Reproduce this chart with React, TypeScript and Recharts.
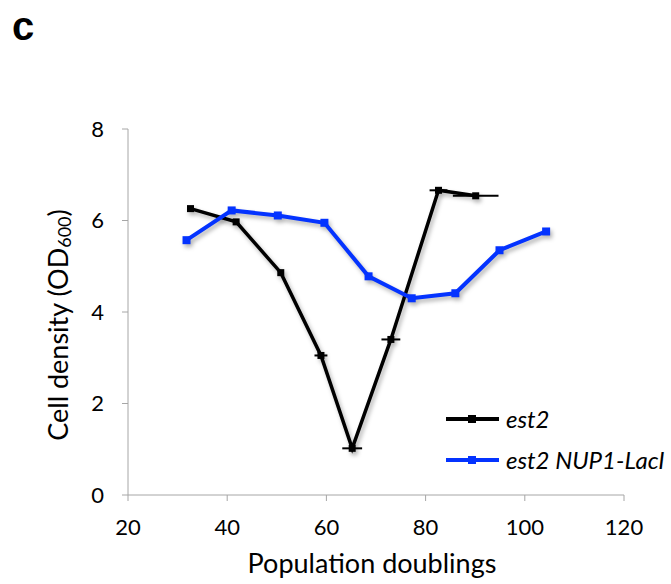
import React from 'react';
import { ScatterChart, Scatter, XAxis, YAxis, ErrorBar, Legend } from 'recharts';

// est2 culture (black)
const est2Doublings = [32.6, 41.8, 50.8, 58.9, 65.2, 73.0, 82.6, 90.1];
const est2Density = [6.26, 5.97, 4.86, 3.05, 1.02, 3.4, 6.66, 6.54];
const est2DoublingsErr = [0, 0, 0, 1.3, 2.0, 1.9, 1.8, 4.6];

// est2 NUP1-LacI culture (blue)
const nupDoublings = [31.8, 40.9, 50.2, 59.6, 68.5, 77.2, 86.0, 94.9, 104.3];
const nupDensity = [5.57, 6.22, 6.11, 5.95, 4.78, 4.3, 4.41, 5.35, 5.76];

const xTicks = [20, 40, 60, 80, 100, 120];
const yTicks = [0, 2, 4, 6, 8];

const FONT = 'Lato, "Open Sans", sans-serif';
const AXIS_GREY = '#a6a6a6';

const est2Data = est2Doublings.map((x, i) => ({ x, y: est2Density[i], xErr: est2DoublingsErr[i] }));
const nupData = nupDoublings.map((x, i) => ({ x, y: nupDensity[i] }));

const squareDot = (size: number, color: string) => (p: any) => (
  <rect x={p.cx - size / 2} y={p.cy - size / 2} width={size} height={size} fill={color} />
);

const renderYLabel = (props: any) => {
  const vb = props.viewBox || {};
  const cx = vb.x - 11;
  const cy = vb.y + vb.height / 2 + 13;
  return (
    <text
      transform={`translate(${cx},${cy}) rotate(-90)`}
      textAnchor="middle"
      dominantBaseline="central"
      fontSize={27}
      fontFamily={FONT}
      fill="#000"
    >
      Cell density (OD
      <tspan fontSize={18} dy={7}>600</tspan>
      <tspan dy={-7}>)</tspan>
    </text>
  );
};

const renderXLabel = (props: any) => {
  const vb = props.viewBox || {};
  return (
    <text
      x={vb.x + vb.width / 2 - 4}
      y={vb.y + 78}
      textAnchor="middle"
      fontSize={27}
      fontFamily={FONT}
      fill="#000"
    >
      Population doublings
    </text>
  );
};

const renderLegend = (props: any) => {
  const items = props.payload || [];
  return (
    <div>
      {items.map((item: any) => (
        <div key={item.value} style={{ display: 'flex', alignItems: 'center', height: 41 }}>
          <svg width={56} height={12} style={{ marginRight: 4 }}>
            <line x1={0} y1={6} x2={53} y2={6} stroke={item.color} strokeWidth={4} />
            <rect x={22} y={2} width={8} height={8} fill={item.color} />
          </svg>
          <span style={{ fontFamily: FONT, fontStyle: 'italic', fontSize: 24, color: '#000', whiteSpace: 'nowrap' }}>
            {item.value}
          </span>
        </div>
      ))}
    </div>
  );
};

export default function App() {
  return (
    <div style={{ position: 'relative', width: 671, height: 584, background: '#fff', overflow: 'hidden' }}>
      <style>{`body{margin:0} .recharts-scatter{filter:drop-shadow(2px 3px 2px rgba(0,0,0,0.3))}`}</style>
      <div
        style={{
          position: 'absolute',
          left: 12,
          top: 4,
          fontFamily: '"Liberation Sans", Arial, sans-serif',
          fontWeight: 'bold',
          fontSize: 40,
          zIndex: 2,
        }}
      >
        c
      </div>
      <ScatterChart width={671} height={584} margin={{ top: 129, right: 47, bottom: 59, left: 68 }}>
        <XAxis
          type="number"
          dataKey="x"
          domain={[20, 120]}
          ticks={xTicks}
          height={30}
          stroke={AXIS_GREY}
          tickSize={6}
          tickMargin={18}
          tick={{ fill: '#000', fontSize: 22, fontFamily: FONT }}
          label={{ content: renderXLabel }}
        />
        <YAxis
          type="number"
          dataKey="y"
          domain={[0, 8]}
          ticks={yTicks}
          width={60}
          stroke={AXIS_GREY}
          tickSize={6}
          tickMargin={18}
          tick={{ fill: '#000', fontSize: 22, fontFamily: FONT }}
          label={{ content: renderYLabel }}
        />
        <Legend
          layout="vertical"
          verticalAlign="middle"
          align="center"
          wrapperStyle={{ left: 446, top: 398, width: 240 }}
          content={renderLegend}
        />
        <Scatter
          name="est2"
          data={est2Data}
          fill="#000000"
          line={{ stroke: '#000000', strokeWidth: 3.5 }}
          lineType="joint"
          shape={squareDot(7, '#000000')}
          isAnimationActive={false}
        >
          <ErrorBar dataKey="xErr" direction="x" width={0} stroke="#000000" strokeWidth={2} />
        </Scatter>
        <Scatter
          name="est2 NUP1-LacI"
          data={nupData}
          fill="#0433ff"
          line={{ stroke: '#0433ff', strokeWidth: 4 }}
          lineType="joint"
          shape={squareDot(8, '#0433ff')}
          isAnimationActive={false}
        />
      </ScatterChart>
    </div>
  );
}
